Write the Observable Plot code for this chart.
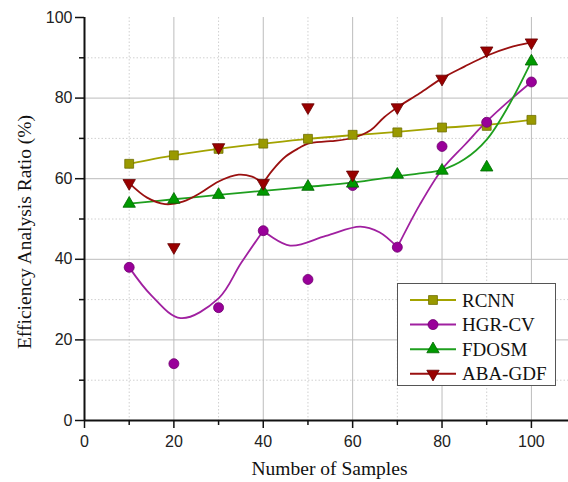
<!DOCTYPE html>
<html><head><meta charset="utf-8">
<script src="https://cdn.jsdelivr.net/npm/d3@7"></script>
<script src="https://cdn.jsdelivr.net/npm/@observablehq/plot@0.6"></script>
<style>
body{margin:0;background:#fff}
#wrap{position:relative;width:568px;height:482px;overflow:hidden}
#legend{position:absolute;left:0;top:0}
</style>
</head><body><div id="wrap"></div>
<script>
// ---- data ----
const samples = [10, 20, 30, 40, 50, 60, 70, 80, 90, 100];
const seriesNames = ["RCNN", "HGR-CV", "FDOSM", "ABA-GDF"];
const rcnn   = [63.7, 65.8, 67.4, 68.7, 69.9, 70.9, 71.5, 72.7, 73.1, 74.6];
const hgrcv  = [38.0, 14.1, 28.0, 47.1, 35.0, 58.3, 43.0, 68.0, 74.0, 84.0];
const fdosm  = [53.8, 54.8, 56.0, 56.8, 58.0, 58.8, 61.0, 62.0, 62.8, 89.1];
const abagdf = [58.9, 43.0, 67.8, 58.9, 77.7, 61.0, 77.7, 84.8, 91.8, 93.8];

// smoothed trend curves (cusps = sharp corners)
const rcnnFitX  = [10, 20, 30, 40, 50, 60, 70, 80, 90, 100];
const rcnnFitY  = [63.7, 65.8, 67.4, 68.7, 69.9, 70.8, 71.6, 72.6, 73.4, 74.6];
const rcnnCusps = [];
const hgrFitX   = [10, 15, 21.5, 30, 35, 40, 46, 54, 61.7, 66, 70, 75, 80, 85, 90, 95, 100];
const hgrFitY   = [38.0, 31.0, 25.4, 30.3, 39.0, 47.1, 43.4, 45.8, 48.1, 46.7, 43.0, 53.5, 62.3, 68.3, 74.2, 79.3, 84.0];
const hgrCusps  = [40, 70];
const fdosmFitX = [10, 20, 30, 40, 50, 60, 70, 75, 80, 85, 90, 95, 100];
const fdosmFitY = [53.8, 54.9, 56.0, 57.0, 58.0, 59.0, 60.6, 61.3, 62.2, 64.8, 69.7, 78.3, 89.1];
const fdosmCusps = [];
const abaFitX   = [10, 14, 18, 22, 26, 30, 34.5, 37.5, 40, 42, 45, 48, 50, 55, 60, 64, 67, 70, 75, 80, 85, 90, 95, 100];
const abaFitY   = [58.9, 55.3, 53.7, 54.3, 56.5, 59.3, 61.0, 60.5, 58.9, 62.0, 65.5, 67.6, 68.7, 69.3, 70.1, 72.0, 75.2, 77.7, 81.2, 84.9, 87.8, 90.5, 92.5, 93.8];
const abaCusps  = [40];

const xMajor = [0, 20, 40, 60, 80, 100];
const xMinor = [10, 30, 50, 70, 90];
const yMajor = [0, 20, 40, 60, 80, 100];
const yMinor = [10, 30, 50, 70, 90];
const xTitle = "Number of Samples";
const yTitle = "Efficiency Analysis Ratio (%)";

// ---- styling ----
const styles = [
  {fill: "#999900", stroke: "#6e6e00", line: "#a3a300", symbol: "square",   r: 5,   rotate: 0},
  {fill: "#990099", stroke: "#6e006e", line: "#a020a0", symbol: "circle",   r: 5,   rotate: 0},
  {fill: "#009900", stroke: "#006600", line: "#1f9f1f", symbol: "triangle", r: 4.6, rotate: 0},
  {fill: "#990000", stroke: "#660000", line: "#9a1010", symbol: "triangle", r: 4.6, rotate: 180}
];
const values = [rcnn, hgrcv, fdosm, abagdf];
const fits = [[rcnnFitX, rcnnFitY, rcnnCusps], [hgrFitX, hgrFitY, hgrCusps], [fdosmFitX, fdosmFitY, fdosmCusps], [abaFitX, abaFitY, abaCusps]];

const pts = values.map((v, k) => samples.map((s, i) => ({x: s, y: v[i], k})));
// split each curve into segments at its cusps (cusp point belongs to both sides)
const curves = fits.map(([fx, fy, cusps], k) => {
  const rows = [];
  fx.forEach((x, i) => {
    const seg = cusps.filter(c => c < x).length;
    rows.push({x, y: fy[i], seg});
    if (cusps.includes(x)) rows.push({x, y: fy[i], seg: seg + 1});
  });
  return rows;
});

const serif = "'Liberation Serif', 'Times New Roman', serif";
const sans = "'Liberation Sans', Arial, sans-serif";

const marks = [
  Plot.gridX(xMinor, {stroke: "#d0d0d0", strokeOpacity: 1, strokeDasharray: "1.5,2"}),
  Plot.gridY(yMinor, {stroke: "#d0d0d0", strokeOpacity: 1, strokeDasharray: "1.5,2"}),
  Plot.gridX(xMajor.filter(d => d > 0), {stroke: "#bcbcbc", strokeOpacity: 1}),
  Plot.gridY(yMajor.filter(d => d > 0 && d < 100), {stroke: "#bcbcbc", strokeOpacity: 1}),
];
curves.forEach((c, k) => {
  marks.push(Plot.line(c, {x: "x", y: "y", z: "seg", stroke: styles[k].line, strokeWidth: 1.8, curve: "catmull-rom"}));
});
pts.forEach((p, k) => {
  const s = styles[k];
  marks.push(Plot.dot(p, {x: "x", y: "y", symbol: s.symbol, r: s.r, rotate: s.rotate, fill: s.fill, stroke: s.stroke, strokeWidth: 0.8}));
});
marks.push(
  Plot.ruleX([0], {stroke: "#111", strokeWidth: 2}),
  Plot.ruleY([0], {stroke: "#111", strokeWidth: 2}),
  Plot.axisY(yMajor, {tickSize: 9, tickPadding: 3, fontSize: 16, fontFamily: sans, fill: "#222", stroke: "#111", strokeWidth: 1.5, label: null}),
  Plot.axisY(yMinor, {tickSize: 5, text: null, stroke: "#111", strokeWidth: 1.5, label: null}),
  Plot.axisX(xMajor, {tickSize: 8, tickPadding: 7, fontSize: 16, fontFamily: sans, fill: "#222", stroke: "#111", strokeWidth: 1.5, label: null}),
  Plot.axisX(xMinor, {tickSize: 5, text: null, stroke: "#111", strokeWidth: 1.5, label: null}),
  Plot.text([xTitle], {frameAnchor: "bottom", textAnchor: "middle", dx: 3, dy: 48, fontFamily: serif, fontSize: 19.5, fill: "#111", lineAnchor: "middle"}),
  Plot.text([yTitle], {frameAnchor: "left", textAnchor: "middle", dx: -60, dy: 13, rotate: -90, fontFamily: serif, fontSize: 19.5, fill: "#111", lineAnchor: "middle"})
);

const chart = Plot.plot({
  width: 568, height: 482,
  marginLeft: 84, marginRight: 0, marginTop: 17, marginBottom: 62,
  x: {domain: [0, 108.3]},
  y: {domain: [0, 100]},
  style: {background: "#fff", fontFamily: sans, overflow: "visible"},
  marks
});
const wrap = document.getElementById("wrap");
wrap.appendChild(chart);

// ---- legend overlay ----
const lg = d3.select(wrap).append("svg").attr("id", "legend").attr("width", 568).attr("height", 482);
const bx = 397, by = 283, bw = 158, bh = 102;
lg.append("rect").attr("x", bx + 0.5).attr("y", by + 0.5).attr("width", bw).attr("height", bh)
  .attr("fill", "#fff").attr("stroke", "#555").attr("stroke-width", 1);
seriesNames.forEach((name, k) => {
  const s = styles[k];
  const cy = by + 17 + k * 24.6;
  lg.append("line").attr("x1", bx + 13).attr("x2", bx + 59).attr("y1", cy).attr("y2", cy)
    .attr("stroke", s.line).attr("stroke-width", 2);
  const sym = {square: d3.symbolSquare, circle: d3.symbolCircle, triangle: d3.symbolTriangle}[s.symbol];
  lg.append("path").attr("d", d3.symbol(sym, Math.PI * s.r * s.r)())
    .attr("transform", `translate(${bx + 36},${cy}) rotate(${s.rotate})`)
    .attr("fill", s.fill).attr("stroke", s.stroke).attr("stroke-width", 0.8);
  lg.append("text").attr("x", bx + 65).attr("y", cy).attr("dy", "0.35em")
    .attr("font-family", serif).attr("font-size", 19).attr("fill", "#111").text(name);
});
</script>
</body></html>
